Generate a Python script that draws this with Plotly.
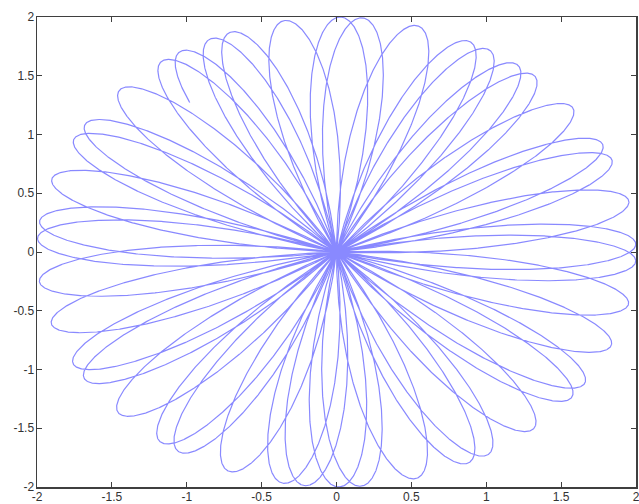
import numpy as np
import plotly.graph_objects as go

# Rose curve parameters (petal tips at r = 2, ~44 petals)
amplitude = 2.0
petal_freq = 5.8271          # k in r = A*sin(k*(theta - theta_start))
theta_start_deg = 37.6
theta_end_deg = 1387.6
n_samples = 20000

tick_vals = [-2, -1.5, -1, -0.5, 0, 0.5, 1, 1.5, 2]
tick_text = ["-2", "-1.5", "-1", "-0.5", "0", "0.5", "1", "1.5", "2"]

theta = np.radians(np.linspace(theta_start_deg, theta_end_deg, n_samples))
r = amplitude * np.sin(petal_freq * (theta - np.radians(theta_start_deg)))
x = r * np.cos(theta)
y = r * np.sin(theta)

fig = go.Figure(go.Scatter(x=x, y=y, mode="lines",
                           line=dict(color="rgba(40,40,255,0.55)", width=1.2),
                           hoverinfo="skip"))

axis_style = dict(range=[-2, 2], showgrid=False, zeroline=False, showline=True, mirror="ticks",
                  linecolor="#3f3f3f", linewidth=1.5, ticks="inside", ticklen=5, tickwidth=1,
                  tickcolor="#3f3f3f", tickvals=tick_vals, ticktext=tick_text, automargin=False,
                  ticklabeloverflow="allow",
                  tickfont=dict(family="Liberation Sans, Arial, sans-serif", size=12, color="#333333"))
fig.update_layout(width=639, height=504, margin=dict(l=37, r=3, t=17, b=17),
                  plot_bgcolor="white", paper_bgcolor="white", showlegend=False)
fig.update_xaxes(**axis_style, ticklabelstandoff=-2)
fig.update_yaxes(**axis_style, ticklabelstandoff=-1)
fig.write_html("out.html", config={"displayModeBar": False, "staticPlot": True},
               post_script="document.documentElement.style.margin='0';"
                           "document.body.style.margin='0';document.body.style.overflow='hidden';")
